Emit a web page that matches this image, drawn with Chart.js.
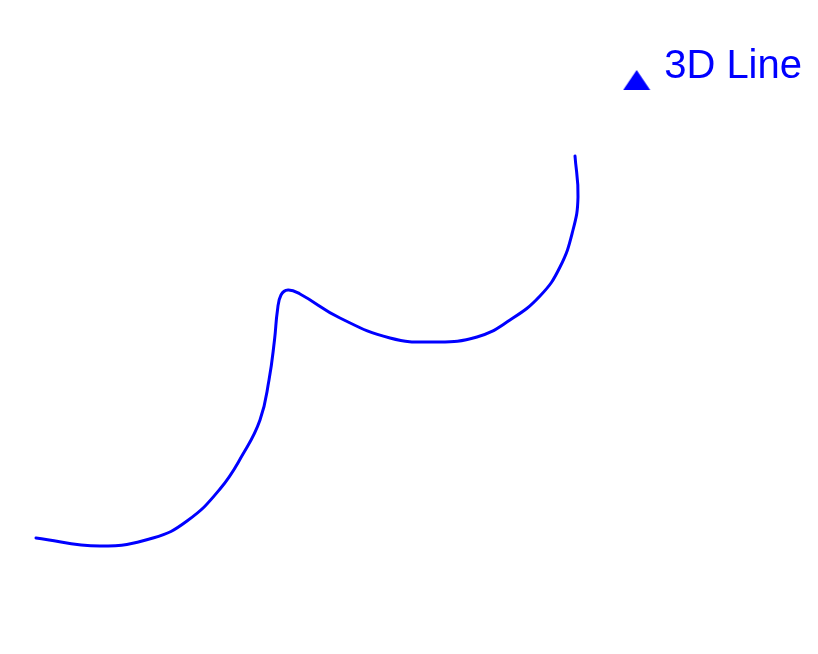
<!DOCTYPE html>
<html>
<head>
<meta charset="utf-8">
<script src="https://cdn.jsdelivr.net/npm/chart.js@4/dist/chart.umd.min.js"></script>
<style>
  html, body { margin: 0; padding: 0; background: #ffffff; }
  canvas { display: block; }
</style>
</head>
<body>
<canvas id="c" width="818" height="654"></canvas>
<script>
// Projected 3D line (horizontal / vertical screen units)
const seriesName = "3D Line";
const xValues = [36, 100, 153, 187, 220, 243, 260, 269, 274.5, 277.5, 281, 288, 300, 340, 390, 433, 477, 510, 540, 560, 573, 578, 575];
const yValues = [116, 108, 116, 133, 165, 200, 234, 274, 314, 344, 359, 364, 360, 336, 316, 312, 317, 334, 358, 387, 424, 457, 498];
const xRange = [0, 818];
const yRange = [0, 557];

const lineColor = '#0000ff';

// legend symbol: triangle sitting below the text middle
function makeTriangle() {
  const cv = document.createElement('canvas');
  cv.width = 28; cv.height = 46;
  const g = cv.getContext('2d');
  g.fillStyle = lineColor;
  g.beginPath();
  g.moveTo(14, 26);
  g.lineTo(27.5, 46);
  g.lineTo(0.5, 46);
  g.closePath();
  g.fill();
  return cv;
}
const tri = makeTriangle();

const points = xValues.map((x, i) => ({ x: x, y: yValues[i] }));

new Chart(document.getElementById('c'), {
  type: 'scatter',
  data: {
    datasets: [{
      label: seriesName,
      data: points,
      showLine: true,
      borderColor: lineColor,
      backgroundColor: lineColor,
      borderWidth: 3,
      borderCapStyle: 'round',
      borderJoinStyle: 'round',
      pointRadius: 0,
      pointHoverRadius: 0,
      pointStyle: tri,
      tension: 0.45,
      fill: false
    }]
  },
  options: {
    responsive: false,
    animation: false,
    layout: { padding: { top: 31, left: 0, right: 0, bottom: 0 } },
    scales: {
      x: { type: 'linear', display: false, min: xRange[0], max: xRange[1] },
      y: { type: 'linear', display: false, min: yRange[0], max: yRange[1] }
    },
    plugins: {
      tooltip: { enabled: false },
      legend: {
        display: true,
        position: 'top',
        align: 'end',
        labels: {
          usePointStyle: true,
          pointStyleWidth: 15,
          boxHeight: 40,
          padding: 16,
          color: lineColor,
          font: { family: 'Liberation Sans', size: 40 }
        }
      }
    }
  }
});
</script>
</body>
</html>
